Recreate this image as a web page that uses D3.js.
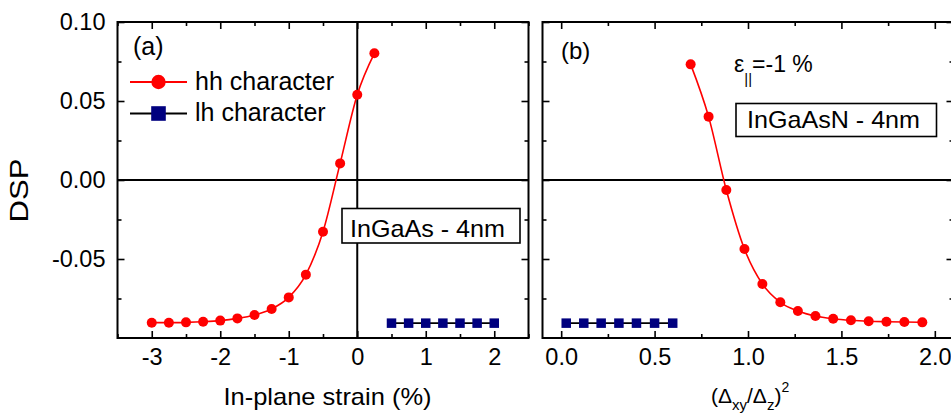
<!DOCTYPE html>
<html>
<head>
<meta charset="utf-8">
<script src="https://cdn.jsdelivr.net/npm/d3@7"></script>
<style>
  html, body { margin: 0; padding: 0; background: #fff; }
  svg { display: block; font-family: "Liberation Sans", Arial, sans-serif; }
</style>
</head>
<body>
<svg id="chart" width="951" height="413"></svg>
<script>
// ---- Data ----
const hhStrain    = [-3, -2.75, -2.5, -2.25, -2, -1.75, -1.5, -1.25, -1, -0.75, -0.5, -0.25, 0, 0.25];
const hhStrainDSP = [-0.0903, -0.0903, -0.0901, -0.0897, -0.0890, -0.0876, -0.0854, -0.0816, -0.0743, -0.0599, -0.0327, 0.0105, 0.0540, 0.0802];
const lhStrain    = [0.5, 0.75, 1, 1.25, 1.5, 1.75, 2];
const lhStrainDSP = [-0.0906, -0.0906, -0.0906, -0.0906, -0.0906, -0.0906, -0.0906];

const hhRatio     = [0.693, 0.789, 0.884, 0.981, 1.077, 1.173, 1.267, 1.361, 1.456, 1.551, 1.646, 1.741, 1.837, 1.933];
const hhRatioDSP  = [0.0732, 0.0401, -0.0063, -0.0437, -0.0658, -0.0774, -0.0829, -0.0861, -0.0878, -0.0888, -0.0894, -0.0897, -0.0899, -0.0901];
const lhRatio     = [0.027, 0.121, 0.214, 0.309, 0.403, 0.500, 0.597];
const lhRatioDSP  = [-0.0906, -0.0906, -0.0906, -0.0906, -0.0906, -0.0906, -0.0906];

const yTickValues      = [0.10, 0.05, 0.00, -0.05];
const yMinorValues     = [0.075, 0.025, -0.025, -0.075];
const leftXTickValues  = [-3, -2, -1, 0, 1, 2];
const leftXMinorValues = [-3.5, -2.5, -1.5, -0.5, 0.5, 1.5, 2.5];
const rightXTickValues = [0, 0.5, 1, 1.5, 2];
const rightXMinorValues= [0.25, 0.75, 1.25, 1.75];

const legendLabels = ["hh character", "lh character"];

// ---- Layout ----
const svg = d3.select("#chart");
const yTop = 22, yBot = 338;
const RED = "#ff0000", NAVY = "#00007f";
const FONT = "\"Liberation Sans\", Arial, sans-serif";

const y = d3.scaleLinear().domain([-0.1, 0.1]).range([yBot, yTop]);
const xL = d3.scaleLinear().domain([-3.5, 2.5]).range([117.5, 528.5]);
const xR = d3.scaleLinear().domain([-0.1, 2.1]).range([542.5, 953.5]);

const fmtY = v => d3.format(".2f")(v).replace("\u2212", "-");
const fmtXL = v => d3.format("d")(v).replace("\u2212", "-");
const fmtXR = v => d3.format(".1f")(v).replace("\u2212", "-");

function panel(x, xTicks, xMinor, xFmt, showYLabels) {
  const [x0, x1] = x.range();
  const g = svg.append("g");

  g.append("line").attr("x1", x0).attr("x2", x1).attr("y1", y(0)).attr("y2", y(0))
    .attr("stroke", "#000").attr("stroke-width", 2);

  const styleAxis = sel => {
    sel.select(".domain").remove();
    sel.selectAll(".tick line").attr("stroke", "#000").attr("stroke-width", 1.6);
    sel.selectAll(".tick text").attr("fill", "#000").style("font-family", FONT).style("font-size", "23.5px");
  };

  g.append("g").attr("transform", `translate(0,${yBot})`)
    .call(d3.axisBottom(x).tickValues(xTicks).tickFormat(xFmt).tickSize(-7).tickPadding(10)).call(styleAxis);
  g.append("g").attr("transform", `translate(0,${yBot})`)
    .call(d3.axisBottom(x).tickValues(xMinor).tickFormat("").tickSize(-4)).call(styleAxis);
  g.append("g").attr("transform", `translate(0,${yTop})`)
    .call(d3.axisTop(x).tickValues(xTicks).tickFormat("").tickSize(-7)).call(styleAxis);
  g.append("g").attr("transform", `translate(0,${yTop})`)
    .call(d3.axisTop(x).tickValues(xMinor).tickFormat("").tickSize(-4)).call(styleAxis);
  g.append("g").attr("transform", `translate(${x0},0)`)
    .call(d3.axisLeft(y).tickValues(yTickValues).tickFormat(showYLabels ? fmtY : "").tickSize(-7).tickPadding(12)).call(styleAxis);
  g.append("g").attr("transform", `translate(${x0},0)`)
    .call(d3.axisLeft(y).tickValues(yMinorValues).tickFormat("").tickSize(-4)).call(styleAxis);
  g.append("g").attr("transform", `translate(${x1},0)`)
    .call(d3.axisRight(y).tickValues(yTickValues).tickFormat("").tickSize(-7)).call(styleAxis);
  g.append("g").attr("transform", `translate(${x1},0)`)
    .call(d3.axisRight(y).tickValues(yMinorValues).tickFormat("").tickSize(-4)).call(styleAxis);

  g.append("rect").attr("x", x0).attr("y", yTop).attr("width", x1 - x0).attr("height", yBot - yTop)
    .attr("fill", "none").attr("stroke", "#000").attr("stroke-width", 2);
  return g;
}

function series(g, x, xs, ys, color, lineColor, shape) {
  const pts = xs.map((v, i) => [v, ys[i]]);
  const line = d3.line().x(d => x(d[0])).y(d => y(d[1])).curve(d3.curveMonotoneX);
  g.append("path").attr("d", line(pts)).attr("fill", "none")
    .attr("stroke", lineColor).attr("stroke-width", 1.6);
  if (shape === "circle") {
    g.selectAll(null).data(pts).enter().append("circle")
      .attr("cx", d => x(d[0])).attr("cy", d => y(d[1])).attr("r", 5).attr("fill", color);
  } else {
    const s = 9.5;
    g.selectAll(null).data(pts).enter().append("rect")
      .attr("x", d => x(d[0]) - s / 2).attr("y", d => y(d[1]) - s / 2)
      .attr("width", s).attr("height", s).attr("fill", color);
  }
}

// ---- Panel (a) ----
const gL = panel(xL, leftXTickValues, leftXMinorValues, fmtXL, true);
gL.append("line").attr("x1", xL(0)).attr("x2", xL(0)).attr("y1", yTop).attr("y2", yBot)
  .attr("stroke", "#000").attr("stroke-width", 2);
series(gL, xL, hhStrain, hhStrainDSP, RED, RED, "circle");
series(gL, xL, lhStrain, lhStrainDSP, NAVY, "#000", "square");

// ---- Panel (b) ----
const gR = panel(xR, rightXTickValues, rightXMinorValues, fmtXR, false);
series(gR, xR, hhRatio, hhRatioDSP, RED, RED, "circle");
series(gR, xR, lhRatio, lhRatioDSP, NAVY, "#000", "square");

// ---- Texts ----
const txt = (x, yy, s, size, anchor) => svg.append("text").attr("x", x).attr("y", yy)
  .attr("text-anchor", anchor || "start").style("font-size", size + "px").attr("fill", "#000").text(s);

txt(133, 55, "(a)", 25);
txt(561, 59, "(b)", 24);

const leg = svg.append("g");
const legY = [82, 113.5];
leg.append("line").attr("x1", 130).attr("x2", 187).attr("y1", legY[0]).attr("y2", legY[0]).attr("stroke", RED).attr("stroke-width", 2);
leg.append("circle").attr("cx", 158.5).attr("cy", legY[0]).attr("r", 7.2).attr("fill", RED);
leg.append("line").attr("x1", 130).attr("x2", 187).attr("y1", legY[1]).attr("y2", legY[1]).attr("stroke", "#000").attr("stroke-width", 2);
leg.append("rect").attr("x", 151.2).attr("y", legY[1] - 7.3).attr("width", 14.6).attr("height", 14.6).attr("fill", NAVY);
txt(195, 90, legendLabels[0], 25);
txt(195, 121, legendLabels[1], 25);

svg.append("rect").attr("x", 342).attr("y", 208.5).attr("width", 178).attr("height", 34.5)
  .attr("fill", "#fff").attr("stroke", "#000").attr("stroke-width", 1.6);
txt(350, 236.5, "InGaAs - 4nm", 24).attr("textLength", 155).attr("lengthAdjust", "spacingAndGlyphs");

svg.append("rect").attr("x", 736).attr("y", 103.5).attr("width", 200.5).attr("height", 33)
  .attr("fill", "#fff").attr("stroke", "#000").attr("stroke-width", 1.6);
txt(747, 128.3, "InGaAsN - 4nm", 24).attr("textLength", 173).attr("lengthAdjust", "spacingAndGlyphs");

const eps = svg.append("text").attr("x", 734).attr("y", 71.7).style("font-size", "23px").attr("fill", "#000");
eps.append("tspan").text("\u03b5");
eps.append("tspan").attr("dy", 12).style("font-size", "15px").text("||");
eps.append("tspan").attr("dy", -12).text("=-1 %");

txt(327.5, 405, "In-plane strain (%)", 24, "middle").attr("textLength", 208).attr("lengthAdjust", "spacingAndGlyphs");

const rt = svg.append("text").attr("x", 711).attr("y", 403).style("font-size", "21px").attr("fill", "#000");
rt.append("tspan").text("(\u0394");
rt.append("tspan").attr("dy", 7).style("font-size", "15px").text("xy");
rt.append("tspan").attr("dy", -7).text("/\u0394");
rt.append("tspan").attr("dy", 7).style("font-size", "15px").text("z");
rt.append("tspan").attr("dy", -7).text(")");
rt.append("tspan").attr("dy", -11).style("font-size", "14px").text("2");

svg.append("text").attr("transform", "translate(28,190.5) rotate(-90)")
  .attr("text-anchor", "middle").style("font-size", "25px").attr("fill", "#000")
  .attr("textLength", 64).attr("lengthAdjust", "spacingAndGlyphs").text("DSP");
</script>
</body>
</html>
